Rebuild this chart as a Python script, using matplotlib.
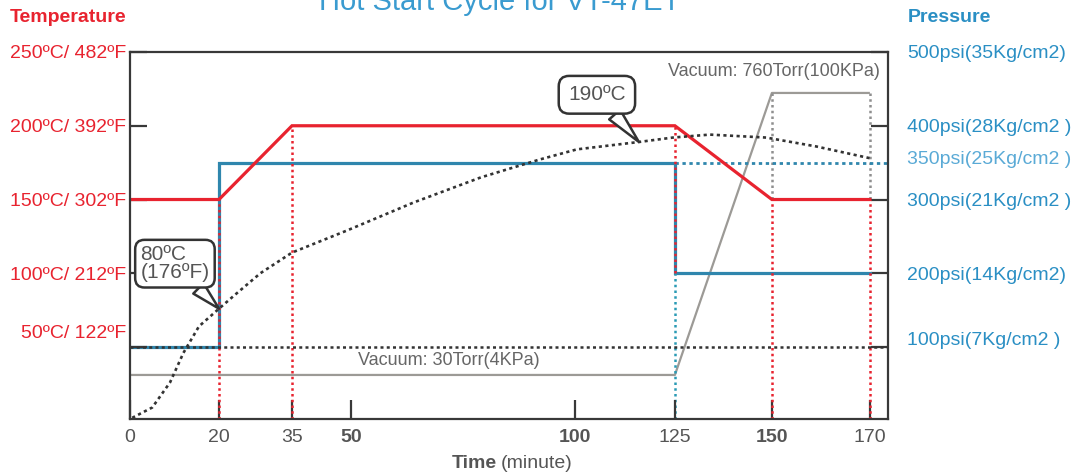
import numpy as np
import matplotlib
matplotlib.use('Agg')
import matplotlib.pyplot as plt

# ---------------- data ----------------
time_ticks = [0, 20, 35, 50, 100, 125, 150, 170]
time_tick_labels = ['0', '20', '35', '50', '100', '125', '150', '170']
bold_time_ticks = [50, 100, 150]

temp_time = [0, 20, 35, 125, 150, 170]
temp_c = [150, 150, 200, 200, 150, 150]

pressure_time = [0, 20, 20, 125, 125, 170]
pressure_psi = [100, 100, 350, 350, 200, 200]
hold_pressure = 350
vent_pressure = 200

vacuum_time = [0, 125, 150, 170]
vacuum_torr = [30, 30, 760, 760]

part_time = [0.5, 5, 9, 12, 15.5, 20, 23.5, 28.5, 35, 49, 64, 79, 92, 100.5,
             116, 124.5, 134, 148.5, 159, 170]
part_temp = [2, 9, 26, 46, 64, 76, 86, 100, 114, 129, 148, 165, 177, 184,
             189, 192, 194, 192, 186, 178]

start_temp_line = 50          # dotted horizontal reference (50 C / 100 psi)
red_marker_times = [20, 35, 125, 150, 170]
red_marker_temps = [150, 200, 200, 150, 150]

temp_tick_values = [50, 100, 150, 200, 250]
temp_tick_labels = ['50ºC/ 122ºF', '100ºC/ 212ºF', '150ºC/ 302ºF',
                    '200ºC/ 392ºF', '250ºC/ 482ºF']
pressure_tick_values = [100, 200, 300, 400, 500]
pressure_tick_labels = ['100psi(7Kg/cm2 )', '200psi(14Kg/cm2)', '300psi(21Kg/cm2 )',
                        '400psi(28Kg/cm2 )', '500psi(35Kg/cm2)']
hold_pressure_label = '350psi(25Kg/cm2 )'

# ---------------- style ----------------
RED = '#e8232f'
BLUE_LINE = '#2f86ad'
BLUE_TEXT = '#2a8fc4'
LIGHT_BLUE = '#5aaad6'
GRAY_LINE = '#9c9a96'
TEXT_GRAY = '#555555'
FRAME = '#383838'
DOT = '#333333'
NARROW = ['Liberation Sans Narrow', 'Liberation Sans', 'DejaVu Sans']
REG = ['Liberation Sans', 'DejaVu Sans']

# non-uniform schematic time axis (visual spacing of the original)
knot_min = [-10, 0, 20, 35, 50, 100, 125, 150, 170, 180]
knot_pos = [85.5, 130, 219, 292, 351, 575, 675, 772, 870, 919]


def fwd(x):
    return np.interp(x, knot_min, knot_pos)


def inv(p):
    return np.interp(p, knot_pos, knot_min)


W, H = 1077, 475
fig = plt.figure(figsize=(W / 100, H / 100), dpi=100)
rect = [130 / W, 1 - 419 / H, (888 - 130) / W, (419 - 52) / H]

ax_v = fig.add_axes(rect)
ax_p = fig.add_axes(rect, sharex=ax_v)
ax_t = fig.add_axes(rect, sharex=ax_v)
for a in (ax_v, ax_p, ax_t):
    a.set_xscale('function', functions=(fwd, inv))
X_END = 173.7
ax_v.set_xlim(0, X_END)
ax_p.patch.set_visible(False)
ax_t.patch.set_visible(False)

ax_t.set_ylim(1.2, 250)
ax_p.set_ylim(2.4, 500)
ax_v.set_ylim(-84, 866)

# vacuum (bottom layer)
ax_v.plot(vacuum_time, vacuum_torr, color=GRAY_LINE, lw=1.6, solid_capstyle='butt')
ax_v.axis('off')
ax_v.set_facecolor('white')
ax_v.patch.set_visible(True)

fig.canvas.draw()


def temp_to_vac(tc):
    yd = ax_t.transData.transform((0, tc))[1]
    return ax_v.transData.inverted().transform((0, yd))[1]


def psi_to_temp(p):
    yd = ax_p.transData.transform((0, p))[1]
    return ax_t.transData.inverted().transform((0, yd))[1]


for tt, tc in zip(vacuum_time[2:], red_marker_temps[3:]):
    ax_v.plot([tt, tt], [vacuum_torr[-1], temp_to_vac(tc)], color='#8f8f8f',
              lw=1.8, linestyle=(0, (1.0, 1.3)))

ax_v.annotate('Vacuum: 30Torr(4KPa)', xy=(51.5, vacuum_torr[0]), xytext=(0, 4),
              textcoords='offset points', ha='left', va='bottom',
              fontsize=13, color='#666666', family=NARROW)
ax_v.annotate('Vacuum: 760Torr(100KPa)', xy=(170, vacuum_torr[-1]), xytext=(7, 9),
              textcoords='offset points', ha='right', va='bottom',
              fontsize=13, color='#666666', family=NARROW)

# pressure layer
ax_p.plot(pressure_time, pressure_psi, color=BLUE_LINE, lw=2.3,
          solid_joinstyle='miter')
ax_p.plot([125, X_END], [hold_pressure, hold_pressure], color=BLUE_LINE, lw=2.0,
          linestyle=(0, (1.2, 1.3)))
ax_p.plot([125, 125], [2.4, vent_pressure], color='#2a9bb5', lw=1.8,
          linestyle=(0, (1.0, 1.3)))
for s in ax_p.spines.values():
    s.set_visible(False)
ax_p.yaxis.tick_right()
ax_p.set_yticks(pressure_tick_values)
ax_p.set_yticklabels([''] + pressure_tick_labels[1:])
ax_p.tick_params(axis='y', direction='in', length=12, width=1.6, color=FRAME,
                 pad=14, labelcolor=BLUE_TEXT, labelsize=14)
for lab in ax_p.get_yticklabels():
    lab.set_family(REG)
ax_p.tick_params(axis='x', bottom=False, labelbottom=False)
ax_p.annotate(pressure_tick_labels[0], xy=(1, pressure_tick_values[0]),
              xycoords=('axes fraction', 'data'), xytext=(14, 5),
              textcoords='offset points', ha='left', va='center',
              fontsize=14, color=BLUE_TEXT, family=REG)
ax_p.annotate(hold_pressure_label, xy=(1, hold_pressure),
              xycoords=('axes fraction', 'data'), xytext=(14, 2),
              textcoords='offset points', ha='left', va='center',
              fontsize=14, color=LIGHT_BLUE, family=NARROW)

# temperature layer
ax_t.plot(temp_time, temp_c, color=RED, lw=2.3, solid_joinstyle='miter')
for tt, tc in zip(red_marker_times, red_marker_temps):
    bottom = psi_to_temp(vent_pressure) if tt == 125 else 1.2
    ax_t.plot([tt, tt], [bottom, tc], color=RED, lw=1.8,
              linestyle=(0, (1.0, 1.3)))
ax_t.axhline(start_temp_line, color=DOT, lw=1.8, linestyle=(0, (1.2, 1.3)))
ax_t.plot(part_time, part_temp, color=DOT, lw=1.9, linestyle=(0, (1.2, 1.3)))

ax_t.annotate('190ºC', xy=(116, 189), xytext=(105.5, 221), textcoords='data',
              ha='center', va='center', fontsize=15, color=TEXT_GRAY, family=NARROW,
              bbox=dict(boxstyle='round,pad=0.45,rounding_size=0.5', fc='white',
                        ec='#333333', lw=1.8),
              arrowprops=dict(arrowstyle='wedge,tail_width=0.7,shrink_factor=0.5',
                              fc='white', ec='#333333', lw=1.8, relpos=(0.65, 0.0),
                              shrinkA=0, shrinkB=0))
ax_t.annotate('80ºC\n(176ºF)', xy=(20, 76), xytext=(10.1, 106.5), textcoords='data',
              ha='center', va='center', multialignment='left', linespacing=0.95,
              fontsize=15, color=TEXT_GRAY, family=NARROW,
              bbox=dict(boxstyle='round,pad=0.25,rounding_size=0.45', fc='white',
                        ec='#333333', lw=1.8),
              arrowprops=dict(arrowstyle='wedge,tail_width=0.7,shrink_factor=0.5',
                              fc='white', ec='#333333', lw=1.8, relpos=(0.75, 0.0),
                              shrinkA=0, shrinkB=0))

for s in ax_t.spines.values():
    s.set_color(FRAME)
    s.set_linewidth(1.6)
ax_t.set_yticks(temp_tick_values)
ax_t.set_yticklabels([''] + temp_tick_labels[1:])
ax_t.tick_params(axis='y', direction='in', length=12, width=1.6, color=FRAME,
                 pad=3, labelcolor=RED, labelsize=14)
for lab in ax_t.get_yticklabels():
    lab.set_family(REG)
ax_t.annotate(temp_tick_labels[0], xy=(0, temp_tick_values[0]),
              xycoords=('axes fraction', 'data'), xytext=(-3, 10),
              textcoords='offset points', ha='right', va='center',
              fontsize=14, color=RED, family=REG)
ax_t.set_xticks(time_ticks)
ax_t.set_xticklabels(time_tick_labels)
ax_t.tick_params(axis='x', direction='in', length=14, width=1.6, color=FRAME,
                 pad=7, labelcolor=TEXT_GRAY, labelsize=14)
for val, lab in zip(time_ticks, ax_t.get_xticklabels()):
    lab.set_family(NARROW)
    if val in bold_time_ticks:
        lab.set_fontweight('bold')
ax_t.minorticks_off()
ax_p.minorticks_off()

# headers and axis title
fig.text(10 / W, 1 - 18 / H, 'Temperature', ha='left', va='center', fontsize=14,
         fontweight='bold', color=RED, family=REG)
fig.text(908 / W, 1 - 18 / H, 'Pressure', ha='left', va='center', fontsize=14,
         fontweight='bold', color=BLUE_TEXT, family=REG)
fig.text(499.5 / W, 1 - 10 / H, 'Hot Start Cycle for VT-47ET', ha='center',
         va='baseline', fontsize=21, color='#3a9bd0', family=REG)
fig.text(497 / W, 1 - 463 / H, 'Time', ha='right', va='center', fontsize=14,
         fontweight='bold', color=TEXT_GRAY, family=NARROW)
fig.text(501 / W, 1 - 463 / H, '(minute)', ha='left', va='center', fontsize=14,
         color=TEXT_GRAY, family=NARROW)

fig.savefig('out.png', dpi=100)
